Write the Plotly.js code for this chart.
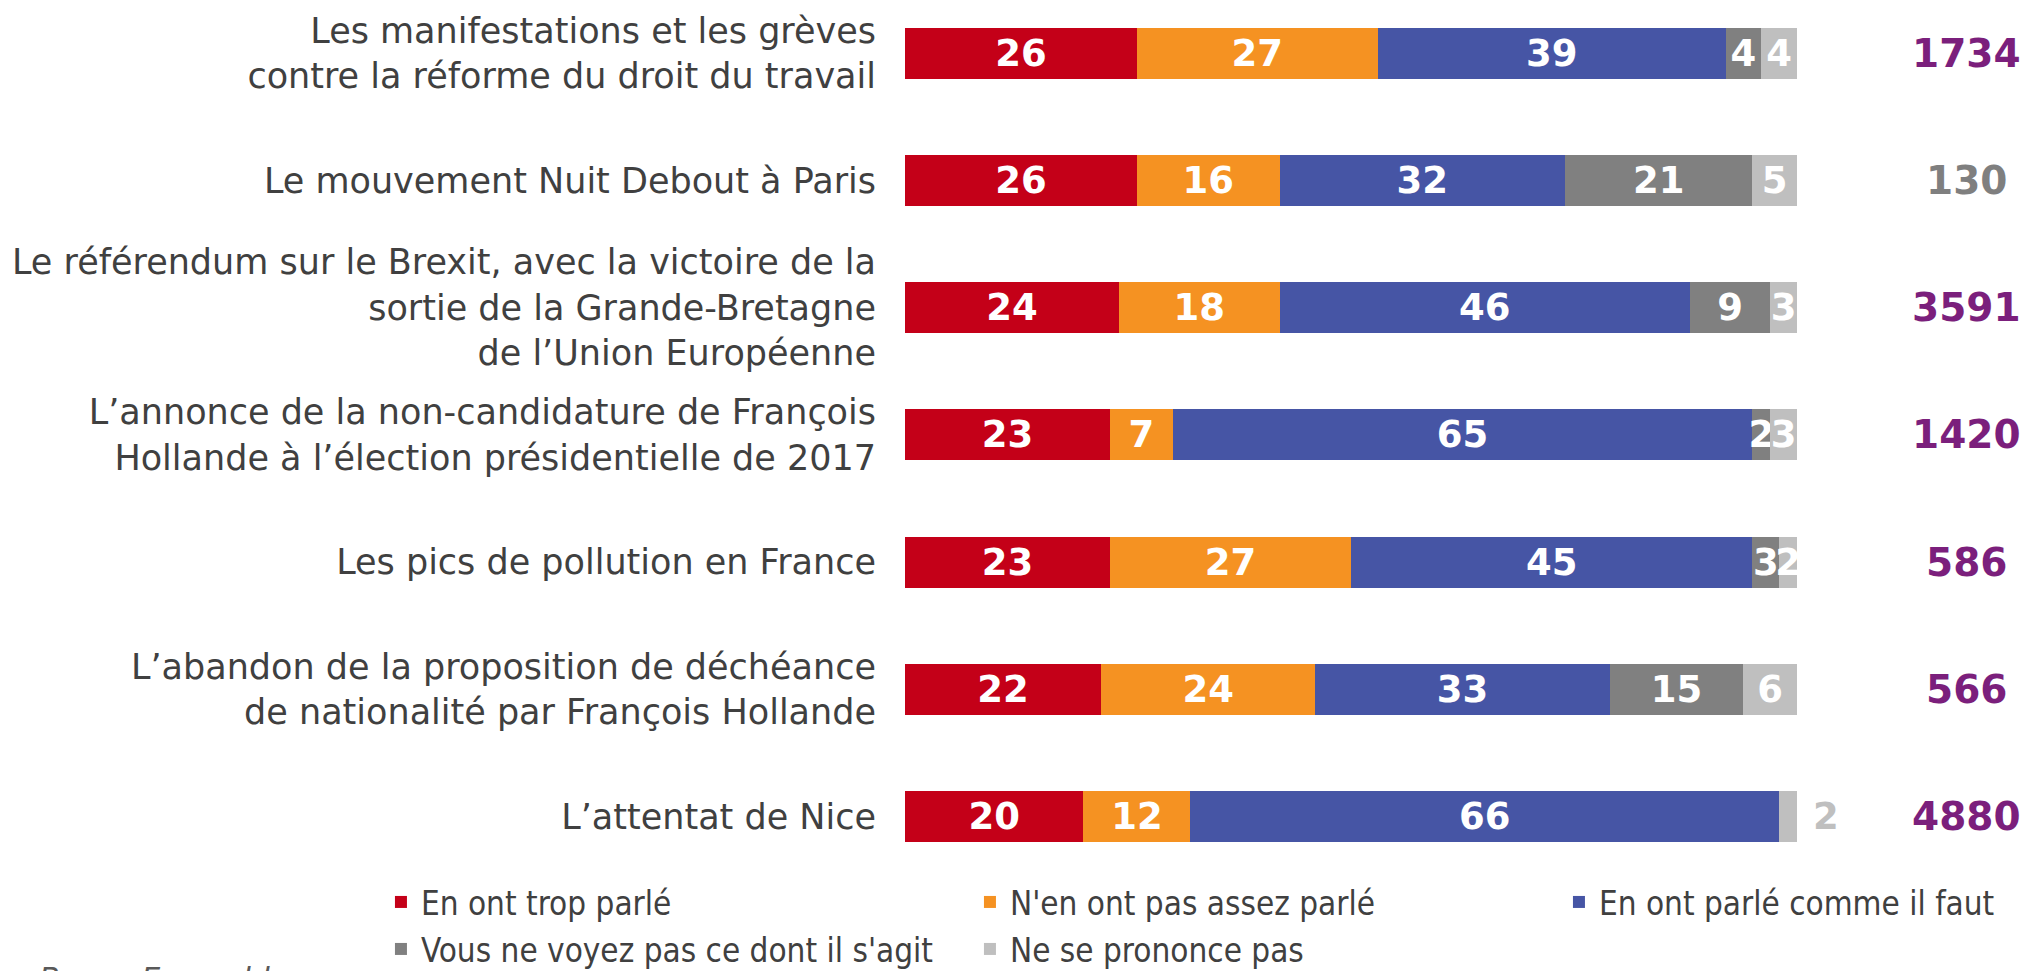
<!DOCTYPE html>
<html>
<head>
<meta charset="utf-8">
<script src="https://cdn.plot.ly/plotly-3.0.1.min.js"></script>
<style>html,body{margin:0;padding:0;background:#fff;}#chart{width:2027px;height:971px;}</style>
</head>
<body>
<div id="chart"></div>
<script>
var categories = [
  "Les manifestations et les grèves<br>contre la réforme du droit du travail",
  "Le mouvement Nuit Debout à Paris",
  "Le référendum sur le Brexit, avec la victoire de la<br>sortie de la Grande-Bretagne<br>de l’Union Européenne",
  "L’annonce de la non-candidature de François<br>Hollande à l’élection présidentielle de 2017",
  "Les pics de pollution en France",
  "L’abandon de la proposition de déchéance<br>de nationalité par François Hollande",
  "L’attentat de Nice"
];
var seriesNames = ["En ont trop parlé", "N'en ont pas assez parlé", "En ont parlé comme il faut", "Vous ne voyez pas ce dont il s'agit", "Ne se prononce pas"];
var legendRows = ["legend", "legend", "legend", "legend2", "legend2"];
var tropParle = [26, 26, 24, 23, 23, 22, 20];
var pasAssezParle = [27, 16, 18, 7, 27, 24, 12];
var commeIlFaut = [39, 32, 46, 65, 45, 33, 66];
var neVoyezPas = [4, 21, 9, 2, 3, 15, 0];
var nsp = [4, 5, 3, 3, 2, 6, 2];
var bases = [1734, 130, 3591, 1420, 586, 566, 4880];
var baseColors = ["#7B1F7C", "#7F7F7F", "#7B1F7C", "#7B1F7C", "#7B1F7C", "#7B1F7C", "#7B1F7C"];
var seriesColors = ["#C40018", "#F59222", "#4655A5", "#808080", "#BFBFBF"];

var allSeries = [tropParle, pasAssezParle, commeIlFaut, neVoyezPas, nsp];
var FAM = "DejaVu Sans, Verdana, sans-serif";
var labelFont = {family: FAM, size: 37, color: "#FFFFFF", weight: "bold"};

var traces = allSeries.map(function (vals, k) {
  var isLast = (k === allSeries.length - 1);
  var positions = vals.map(function (v, i) {
    return (isLast && neVoyezPas[i] === 0) ? "outside" : "inside";
  });
  var texts = vals.map(function (v, i) {
    if (v === 0) return "";
    return positions[i] === "outside" ? "\u00a0" + v : String(v);
  });
  return {
    type: "bar",
    orientation: "h",
    name: seriesNames[k],
    legend: legendRows[k],
    y: categories,
    x: vals,
    width: 0.4,
    marker: {color: seriesColors[k], line: {width: 0}},
    text: texts,
    textposition: positions,
    insidetextanchor: "middle",
    textangle: 0,
    constraintext: "none",
    cliponaxis: false,
    textfont: labelFont,
    insidetextfont: labelFont,
    outsidetextfont: {family: FAM, size: 37, color: "#BFBFBF", weight: "bold"},
    hoverinfo: "x+name"
  };
});

var annotations = bases.map(function (b, i) {
  return {
    x: 1.1895, xref: "paper", y: categories[i], yref: "y",
    text: String(b), showarrow: false,
    xanchor: "center", yanchor: "middle",
    font: {family: FAM, size: 39, color: baseColors[i], weight: "bold"}
  };
});
annotations.push({
  x: -0.973, xref: "paper", y: -0.112, yref: "paper",
  text: "<i>Base : Ensemble</i>", showarrow: false,
  xanchor: "left", yanchor: "middle",
  font: {family: FAM, size: 30, color: "#595959"}
});

var legendCommon = {
  orientation: "h",
  x: -0.5875, xanchor: "left",
  yanchor: "middle",
  traceorder: "normal",
  entrywidth: 544, entrywidthmode: "pixels",
  itemwidth: 30,
  font: {family: "DejaVu Sans Condensed, DejaVu Sans, sans-serif", size: 33, color: "#404040"},
  bgcolor: "rgba(0,0,0,0)"
};
var legend1 = Object.assign({}, legendCommon, {y: (880 - 902) / 880});
var legend2 = Object.assign({}, legendCommon, {y: (880 - 949) / 880});

var layout = {
  width: 2027, height: 971,
  margin: {l: 905, r: 230, t: 0, b: 91, pad: 0, autoexpand: false},
  paper_bgcolor: "#FFFFFF", plot_bgcolor: "#FFFFFF",
  barmode: "stack",
  showlegend: true,
  xaxis: {range: [0, 100], visible: false, fixedrange: true},
  yaxis: {
    type: "category",
    categoryorder: "array", categoryarray: categories,
    range: [6.499, -0.419],
    showgrid: false, zeroline: false, showline: false, ticks: "",
    ticklabelstandoff: 28,
    tickfont: {family: FAM, size: 35, color: "#404040"}
  },
  legend: legend1,
  legend2: legend2,
  annotations: annotations
};

Plotly.newPlot("chart", traces, layout, {displayModeBar: false, staticPlot: true});
</script>
</body>
</html>
